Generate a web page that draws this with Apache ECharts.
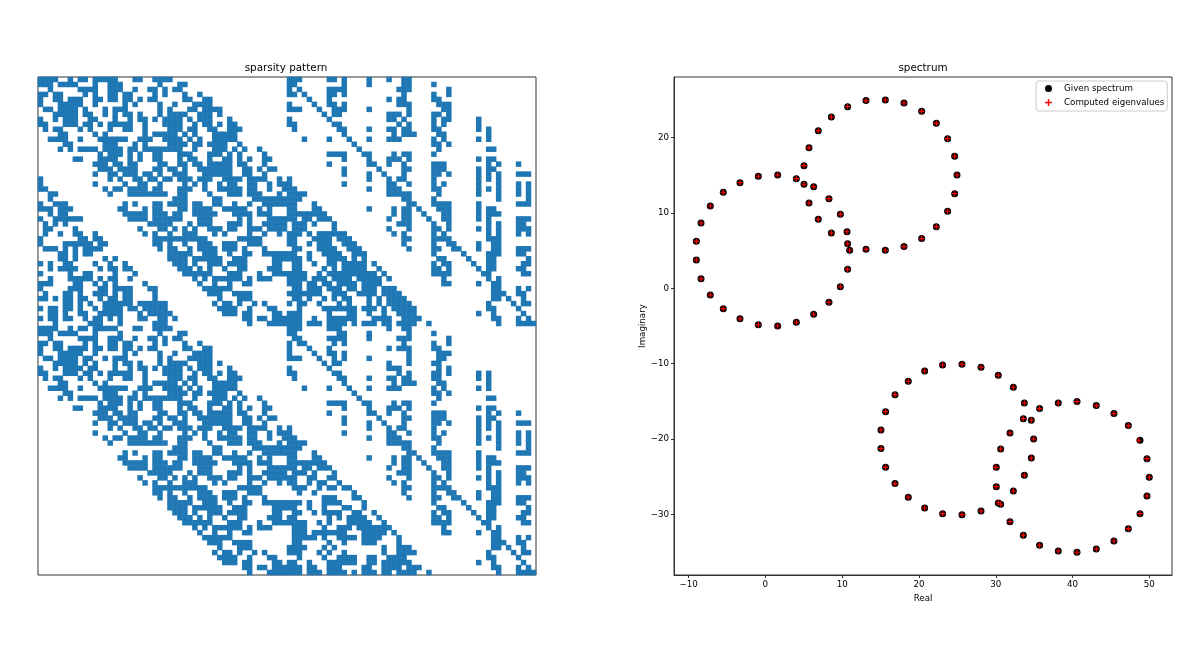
<!DOCTYPE html>
<html style="height: 100%">
  <head>
    <meta charset="UTF-8" />
    <title>sparsity pattern and spectrum</title>
    <script src="https://cdn.jsdelivr.net/npm/echarts/dist/echarts.min.js"></script>
  </head>
  <body style="height: 100%; margin: 0; background: #fff">
    <div id="main" style="width: 1200px; height: 652px"></div>
    <script>
      // 非零元所在的列，每行一条，a-b 表示连续的列
      var sparsityRows = [
        '0-3 6 8-9 11-15 19-20 23-26 50-52 58-59 61 66 70 73-74',
        '0-2 4-7 11 14-16 24 28-29 50-51 61 66 73-74 79',
        '2 8-11 14-16 19 22-23 25 27-28 50 52 58-61 72-74 82',
        '0-1 3-4 9 11 14-15 17-18 23 25 29 32 50-51 53 58-59 61 73 79 82',
        '0 3-4 6-8 11-12 14-15 17-18 20 22-23 29-30 33-34 54 58 70 72-73 79-80',
        '0 4-8 11 17 19 24 27 31-34 50 55 58-59 61 72-74 80-82',
        '1-2 4-7 9 13 15-17 24 26 30-31 33-36 50-52 56 59-60 61 66 74 81-82',
        '3-7 9-10 13 15 17-18 20 24 26-29 32-34 36 57 59-60 70-72 74 79-80 82',
        '0 3 5-7 10-11 15 18 20-21 23 25-28 30 32-34 38 50 58 70-71 73 79 81-82 88',
        '0-1 5-7 9-10 12 14-18 21 25-28 31 33-34 36 38-39 50-51 59-60 72 74 79 81 88',
        '1 3-4 8 10 14 17-18 21 26-28 30-31 34-35 38-40 51 60-61 66 70-71 73-74 79-80 88 90',
        '4-5 11 13 21 23-27 29 31 35-39 61 71 73-75 80-81 90',
        '2-5 8 12-17 20-22 25-28 30 32 35-39 53 58 62 66 70-72 79 81 88 90',
        '5-6 13-15 19 21 26-29 31-32 34-37 40 63 79-80 82',
        '4 6 8-11 13-16 18-19 21-28 31 35-37 39 41 44 64 80 90-91',
        '12 14-16 18 20 23-24 28-30 34-36 38 40 45 58-61 65-66 71 73-74 79',
        '7-8 12-15 18 20 23-24 28 30-31 34 37-38 40 42 45-46 61 66 70-72 74 88 90-91',
        '11-13 15-16 18-19 24-25 28-29 31-32 34-38 40-41 45 58 66-67 70 73 79-81 90 92 96',
        '12-14 16-19 23-24 26-27 29 32-38 41-42 44 46-47 61 68 73-74 79-81 88 90-91',
        '11 14-15 17-19 21-22 24 27-29 33-38 41-42 45 61 66 69 73 79-80 82 88 90 92 96-98',
        '0 14 16 19-20 22-23 25-26 28-30 32-34 37-40 42-45 48 50 66 70 72-73 79 88 90 92',
        '0 11 17 20-21 24 29 31 33 36 38-39 42-43 46 48-49 50 61 70-71 74 79 81 88 92 96 98',
        '0-1 13 15-16 18-21 23-24 28-30 33 36-40 42-43 46 49 50-51 66 70-72 79-80 88 90 92 96 98',
        '2-3 14 18-25 28-29 34 38-40 42-44 48 50-53 70-74 80 88 92 96 98',
        '2 27-29 35-36 43-49 50-52 73-74 79 92 98',
        '0 3-5 17 19 23-24 26-29 31-32 35-36 39 42 45-49 50-51 55 74-75 79-82 88 96-98',
        '0-2 4-6 16-17 21 23-24 28-29 31-34 37-41 44 46 50-51 55-56 66 71 73-74 76 80-82 88 90-91',
        '2 4-5 17-21 23-25 27-28 31-35 39-42 44-46 50-57 71 73-74 77 81-82 88 90-92',
        '0 3-8 18-21 23-28 32-34 40 42 46-49 50-51 53-54 56-58 70 73-74 78 81-82 88 90 96-98',
        '1 3 5 22-26 30 32-34 38-40 42 45-49 51-53 55 59 72-74 79 82 90 92 96-97',
        '1-2 7 20 24-25 27 29 31 34-36 38-39 42-44 46-49 51-53 59 70 74 79-80 82 88 90 92 96-98',
        '1 4 7-8 11 21 23 26 29-31 35 37 42 45 48 50-52 54 56-61 71 73 79 81 90 92 96 98',
        '0 8-9 11-12 23-33 40-44 50-51 55-58 60-62 73-74 79-82 90-92',
        '0 5-10 12-13 23-24 26 29 32-34 37-39 42-44 50-51 54 56-58 61-63 73 79 82-83 88 91-92',
        '1-3 5 7 9-12 24 26-27 30 32-35 37-39 41 45 51-52 56-59 62-64 74 79-80 83-84 88 91-92 96-98',
        '4-5 7 9-10 26-30 33-35 38 41-42 45-49 50-51 54 57-60 63-65 79 85 90-92 96-97',
        '4-5 7 13 15 26-29 31-36 39-41 47-49 50-52 54 58-61 63 65 80-81 86 90-91 98',
        '0 2 5-6 11 14 17 27-29 31 34-36 38-41 47-48 51-52 55 58-59 61-65 67 79 81-82 87 90-91 97-98',
        '2 4-7 12 14-15 17-18 28-30 32 34 37 40-41 46-48 51-52 57 59 61-65 68 79-80 82 88 90-91 96-97',
        '0 6 9-10 15 19 29-34 38-40 44 47-49 50-53 56 58-67 69 79-82 89 90 97-98',
        '2 6-10 12 14-15 18 31 33 35-40 42 44-46 50-53 55-57 59-62 64-68 70 81 90 92',
        '0-2 7-8 11 13 15 21 32 35 38 41-42 50-52 54-55 57-58 60-63 65-68 81-82 88 91-92',
        '0 6-8 12-13 15-18 22-23 33-38 51-52 54-56 58-60 62-63 65-67 69-71 91-92 96 98',
        '1 5-6 8 11-13 15 17-18 23 34-36 39-42 50-56 59-61 64-67 69-72 91-93 96-97',
        '0-1 3 5-6 8-9 12 14-15 17-18 23 36 40-42 51-52 54 57 59 61-62 66 68 70-73 91-92 94 97',
        '5-6 8 10 13-18 20-25 35 37-38 40 43 45 50 52-53 56 60 62 66 68 70-74 90 95 97-98',
        '0 2-3 5-6 8 11 13-16 18-19 21-25 36-39 42 46-47 52 57-63 65-67 69 71-75 90-91 96',
        '2-3 5 8-9 12-16 20 22-26 37-39 41-42 47-48 50-52 58 62-63 66 69 72-75 88 91 97',
        '0 2-3 5-6 9 11-12 14 16 20-21 24-25 27 41-42 44-45 47-49 50-52 55 58-63 67-70 73-76 91-92 96 98',
        '3 10-12 16 23-25 42 46-49 50-52 54-56 58-61 63 65-67 69-70 72-75 78 92 96-99',
        '0-3 6 8-9 11-15 19-20 23-26 50-52 58-60 70 73-74',
        '0-2 4-7 11 16 24 28-29 50-51 60-61 66 74 79',
        '2 8-11 14-16 19 22-23 25 27-28 51-52 58-61 66 72-74 82',
        '0-1 3-4 9 11 14-15 17-18 23 25 29 32 50 52-53 59 61 73 79 82',
        '0 3-4 6-9 11-12 14-15 17-18 20 22-23 29-30 33-34 50 54 58 70 72-74 79-80',
        '0 4-8 11 17 19 24 27 31-34 50 55 58-59 61 74 80-82',
        '1-2 4-7 9-10 13 15-17 24 26 30-34 50-52 56 59 61 66 74 80-81',
        '3-7 9 11 15 17-18 20 24 26-29 32-34 36 57 59-60 70 74 79-80',
        '0 3 5-8 10-11 15 18 20-21 23 25-28 30 32-34 38 50 58 70-72 80 82',
        '0-1 5-7 9-10 12 14-18 21 25-28 31 33-34 36 38-39 50-51 59-60 72 74 79-80 82 88 90',
        '1 3-4 8 10 14 17-18 21 26-28 30-31 34-35 38-40 51 60-61 66 70-71 73-74 79-80 88 90',
        '4-5 11 13 21 23-27 29 31 35-39 61 71 73-75 80-81 90',
        '2-5 8 12-17 20-22 25-28 30 32 35-39 53 58 62 66 70-72 79 81 88 90',
        '5-6 13-15 19 21 26-29 31-32 34-37 40 63 79-80 82',
        '4 6 8-11 13-16 18-19 21-28 31 35-37 39 41 44 64 80 90-91',
        '12 14-16 18 20 23-24 28-30 34-36 38 40 45 58-61 65-66 71 73-74 79',
        '7-8 12-15 18 20 23-24 28 30-31 34 37-38 40 42 45-46 61 66 70-72 74 88 90-91',
        '11-13 15-16 18-19 24-25 28-29 31-32 34-38 40-41 45 58 66-67 70 73 79-81 90 92 96',
        '12-14 16-19 23-24 26-27 29 32-38 41-42 44 46-47 61 68 73-74 79-81 88 90-91',
        '11 14-15 17-19 21-22 24 27-29 33-38 41-42 45 61 66 69 73 79-80 82 88 90 92 96-98',
        '14 16 19-20 22-23 25-26 28-30 32-34 37-40 42-45 48 50 66 70 72-73 79 88 90 92',
        '11 17 20-21 24 29 31 33 36 38-39 42-43 46 48-49 50 61 70-71 74 79 81 88 92 96 98',
        '13 15-16 18-21 23-24 28-30 33 36-40 42-43 46 49 50-51 66 70-72 79-80 88 90 92 96 98',
        '14 18-25 28-29 34 38-40 42-44 48 50-53 70-74 80 88 92 96 98',
        '27-29 35-36 43-49 50-52 73-74 79 92 98',
        '17 19 23-24 26-29 31-32 35-36 39 42 45-49 50-51 55 74-75 79-82 88 96-98',
        '16-17 21 23-24 28-29 31-34 37-41 44 46 50-51 55-56 66 71 73-74 76 80-82 88 90-91',
        '17-21 23-25 27-28 31-35 39-42 44-46 50-57 71 73-74 77 81-82 88 90-92',
        '18-21 23-28 32-34 40 42 46-49 50-51 53-54 56-58 70 73-74 78 81-82 88 90 96-98',
        '22-26 30 32-34 38-40 42 45-49 51-53 55 59 72-74 79 82 90 92 96-97',
        '20 24-25 27 29 31 34-36 38-39 42-44 46-49 50-51 54-55 58-59 70 74 79-80 82 88 90 92 96-98',
        '21 23 26 29-31 35 37 42 45 48 50-51 54 56-57 60 71 73 79 81 90 92 96 98',
        '23-33 40-44 51-53 56 58-59 61-62 73-74 79-82 90-92',
        '23-24 26 29 32-34 37-39 42-44 52 55 63 73 79 82-83 88 91-92',
        '24 26-27 30 32-35 37-39 41 45 57-59 63-64 74 79-80 83-84 88 91-92 96-98',
        '26-30 33-35 38 41-42 45-49 50-52 54 57-60 65 79 85 90-92 96-97',
        '26-29 31-36 39-41 47-49 50-51 54 57 61-62 65 80-81 86 90-91 98',
        '27-29 31 34-36 38-41 47-48 51-52 55 57-60 63-64 67 79 81-82 87 90-91 97-98',
        '28-30 32 34 37 40-41 46-48 50-51 58 60 62-65 68 79-80 82 88 90-91 96-97',
        '29-34 38-40 44 47-49 50-53 56 58 62-66 69 79-82 89 90 97-98',
        '31 33 35-40 42 44-46 51-53 57 60-62 64-70 81 90 92',
        '32 35 38 41-42 51-53 55-61 65-69 71 81-82 88 91-92',
        '33-38 51-55 57 60-63 65-68 72 91-92 96 98',
        '34-36 39-42 51-52 58 61 65-67 72 91-93 96-97',
        '36 40-42 50-53 57 59 69 72-74 91-92 94 97',
        '35 37-38 40 43 45 50-52 56 58 61 69 72-75 90 95 97-98',
        '36-39 42 46-47 52 57 60-63 66-67 70-73 90-91 96',
        '37-39 41-42 47-48 50-51 54 58-63 66-67 69-74 88 91 97',
        '41-42 44-45 47-49 50-52 54-55 58-60 65-66 69-72 74-76 91-92 96 98',
        '42 46-49 50-52 54-56 58-61 63 65-67 69-70 72-75 78 92 96-99'
      ];

      // 给定谱（黑点），按四个圆顺序读取 [实部, 虚部]
      var givenSpectrum = [
        [10.71, 24.07], [13.1, 24.87], [15.62, 24.95], [18.05, 24.56], [20.35, 23.45],
        [22.26, 21.86], [23.73, 19.83], [24.65, 17.49], [24.95, 15.01], [24.65, 12.54],
        [23.73, 10.2], [22.26, 8.17], [20.35, 6.58], [18.05, 5.52], [15.62, 5.03],
        [13.1, 5.16], [10.71, 5.91], [8.59, 7.33], [6.89, 9.14], [5.68, 11.3],
        [5.03, 13.78], [5.03, 16.25], [5.68, 18.64], [6.89, 20.89], [8.59, 22.7],
        [10.97, 5.03], [10.71, 2.51], [9.76, 0.21], [8.28, -1.86], [6.29, -3.45],
        [4.03, -4.51], [1.6, -5], [-0.92, -4.82], [-3.31, -4.03], [-5.48, -2.7],
        [-7.17, -0.89], [-8.38, 1.27], [-8.99, 3.75], [-8.99, 6.22], [-8.38, 8.65],
        [-7.17, 10.9], [-5.48, 12.72], [-3.31, 14], [-0.92, 14.84], [1.6, 15.01],
        [4.03, 14.53], [6.29, 13.47], [8.28, 11.88], [9.76, 9.8], [10.63, 7.5],
        [15.05, -18.78], [15.66, -16.35], [16.88, -14.1], [18.61, -12.33], [20.74, -10.96],
        [23.08, -10.16], [25.6, -10.08], [28.08, -10.47], [30.33, -11.53], [32.29, -13.12],
        [33.72, -15.2], [34.63, -17.5], [34.93, -19.97], [34.63, -22.49], [33.72, -24.79],
        [32.29, -26.86], [30.33, -28.45], [28.08, -29.51], [25.6, -30], [23.08, -29.87],
        [20.74, -29.12], [18.61, -27.7], [16.88, -25.89], [15.66, -23.73], [15.05, -21.25],
        [49.99, -25.05], [49.69, -22.58], [48.78, -20.15], [47.26, -18.2], [45.39, -16.61],
        [43.09, -15.55], [40.58, -15.02], [38.14, -15.2], [35.71, -15.95], [33.59, -17.28],
        [31.85, -19.18], [30.64, -21.3], [30.07, -23.73], [30.07, -26.29], [30.64, -28.63],
        [31.85, -30.93], [33.59, -32.74], [35.71, -34.06], [38.14, -34.82], [40.58, -34.99],
        [43.09, -34.55], [45.39, -33.49], [47.26, -31.86], [48.78, -29.87], [49.69, -27.53]
      ];

      // 计算得到的特征值（红色 +），只有 48.62 那个点和给定谱略有偏差
      var computedEigenvalues = [
        [10.71, 24.1], [13.1, 24.87], [15.62, 24.95], [18.05, 24.56], [20.35, 23.45],
        [22.26, 21.86], [23.73, 19.83], [24.65, 17.49], [24.95, 15.01], [24.65, 12.54],
        [23.73, 10.2], [22.26, 8.17], [20.35, 6.58], [18.05, 5.52], [15.62, 5.03],
        [13.1, 5.16], [10.71, 5.91], [8.59, 7.33], [6.89, 9.14], [5.68, 11.3],
        [5.03, 13.78], [5.03, 16.25], [5.68, 18.64], [6.89, 20.89], [8.59, 22.7],
        [10.97, 5.03], [10.71, 2.51], [9.76, 0.21], [8.28, -1.86], [6.29, -3.45],
        [4.03, -4.51], [1.6, -5], [-0.92, -4.82], [-3.31, -4.03], [-5.48, -2.7],
        [-7.17, -0.89], [-8.38, 1.27], [-8.99, 3.75], [-8.99, 6.22], [-8.38, 8.65],
        [-7.17, 10.9], [-5.48, 12.72], [-3.31, 14], [-0.92, 14.84], [1.6, 15.01],
        [4.03, 14.53], [6.29, 13.47], [8.28, 11.88], [9.76, 9.8], [10.63, 7.5],
        [15.05, -18.78], [15.66, -16.35], [16.88, -14.1], [18.61, -12.33], [20.74, -10.96],
        [23.08, -10.16], [25.6, -10.08], [28.08, -10.47], [30.33, -11.53], [32.29, -13.12],
        [33.72, -15.2], [34.63, -17.5], [34.93, -19.97], [34.63, -22.49], [33.72, -24.79],
        [32.29, -26.86], [30.33, -28.4], [28.08, -29.51], [25.6, -30], [23.08, -29.87],
        [20.74, -29.12], [18.61, -27.7], [16.88, -25.89], [15.66, -23.73], [15.05, -21.25],
        [49.99, -25.05], [49.69, -22.58], [48.62, -20.15], [47.26, -18.2], [45.39, -16.61],
        [43.09, -15.55], [40.58, -15.02], [38.14, -15.2], [35.71, -15.95], [33.59, -17.28],
        [31.85, -19.18], [30.64, -21.3], [30.0, -23.73], [30.07, -26.29], [30.64, -28.63],
        [31.85, -30.93], [33.59, -32.74], [35.71, -34.06], [38.14, -34.82], [40.58, -34.99],
        [43.09, -34.55], [45.39, -33.49], [47.26, -31.86], [48.78, -29.87], [49.69, -27.53]
      ];

      var xTicks = [-10, 0, 10, 20, 30, 40, 50];
      var yTicks = [-30, -20, -10, 0, 10, 20];
      var matrixSize = 100;

      // 把每行的列区间展开成 heatmap 的 [列, 行, 1]
      var cells = [];
      var indices = [];
      for (var i = 0; i < matrixSize; i++) indices.push(i);
      sparsityRows.forEach(function (row, r) {
        row.split(' ').forEach(function (part) {
          var ends = part.split('-').map(Number);
          var last = ends.length > 1 ? ends[1] : ends[0];
          for (var c = ends[0]; c <= last; c++) cells.push([c, r, 1]);
        });
      });

      var font = 'DejaVu Sans';
      var frameColor = '#333';
      function minusSign(v) {
        return String(v).replace('-', '\u2212');
      }

      var chart = echarts.init(document.getElementById('main'), null, { renderer: 'canvas' });
      chart.setOption({
        animation: false,
        backgroundColor: '#fff',
        textStyle: { fontFamily: font },
        title: [
          {
            text: 'sparsity pattern',
            left: 286,
            top: 63,
            padding: 0,
            textAlign: 'center',
            textStyle: { fontFamily: font, fontSize: 10.4, fontWeight: 'normal', color: '#000' }
          },
          {
            text: 'spectrum',
            left: 923,
            top: 63,
            padding: 0,
            textAlign: 'center',
            textStyle: { fontFamily: font, fontSize: 10.4, fontWeight: 'normal', color: '#000' }
          }
        ],
        legend: {
          left: 1036,
          top: 81,
          orient: 'vertical',
          padding: [3, 3, 4, 9],
          itemWidth: 21,
          itemHeight: 7,
          itemGap: 5,
          backgroundColor: '#fff',
          borderColor: '#ccc',
          borderWidth: 1,
          borderRadius: 3,
          textStyle: { fontFamily: font, fontSize: 8.7, color: '#000' },
          data: ['Given spectrum', 'Computed eigenvalues']
        },
        grid: [
          { left: 38, top: 77, width: 498, height: 498, show: true, borderColor: frameColor, borderWidth: 1 },
          { left: 674, top: 77, width: 498, height: 498, show: true, borderColor: frameColor, borderWidth: 1 }
        ],
        xAxis: [
          { gridIndex: 0, type: 'category', data: indices, show: false },
          {
            gridIndex: 1,
            type: 'value',
            min: -11.9,
            max: 52.95,
            name: 'Real',
            nameLocation: 'middle',
            nameGap: 16,
            nameTextStyle: { fontFamily: font, fontSize: 8.7, color: '#000' },
            splitLine: { show: false },
            axisLine: { onZero: false, lineStyle: { color: frameColor } },
            axisTick: { length: 3, lineStyle: { color: frameColor }, customValues: xTicks },
            axisLabel: { fontFamily: font, fontSize: 8.7, color: '#000', margin: 5, customValues: xTicks, formatter: minusSign }
          }
        ],
        yAxis: [
          { gridIndex: 0, type: 'category', data: indices, inverse: true, show: false },
          {
            gridIndex: 1,
            type: 'value',
            min: -38,
            max: 28,
            name: 'Imaginary',
            nameLocation: 'middle',
            nameGap: 27,
            nameTextStyle: { fontFamily: font, fontSize: 8.7, color: '#000' },
            splitLine: { show: false },
            axisLine: { onZero: false, lineStyle: { color: frameColor } },
            axisTick: { length: 3, lineStyle: { color: frameColor }, customValues: yTicks },
            axisLabel: { fontFamily: font, fontSize: 8.7, color: '#000', margin: 5, customValues: yTicks, formatter: minusSign }
          }
        ],
        series: [
          {
            name: 'sparsity',
            type: 'heatmap',
            xAxisIndex: 0,
            yAxisIndex: 0,
            data: cells,
            progressive: 0,
            itemStyle: { color: '#1f77b4' },
            emphasis: { disabled: true }
          },
          {
            name: 'Given spectrum',
            type: 'scatter',
            xAxisIndex: 1,
            yAxisIndex: 1,
            symbol: 'circle',
            symbolSize: 7,
            itemStyle: { color: '#000', opacity: 1 },
            data: givenSpectrum
          },
          {
            name: 'Computed eigenvalues',
            type: 'scatter',
            xAxisIndex: 1,
            yAxisIndex: 1,
            symbol: 'path://M4 0h2v4h4v2h-4v4h-2v-4h-4v-2h4z',
            symbolSize: 5.5,
            itemStyle: { color: '#f00', opacity: 1 },
            data: computedEigenvalues
          }
        ]
      });
    </script>
  </body>
</html>
